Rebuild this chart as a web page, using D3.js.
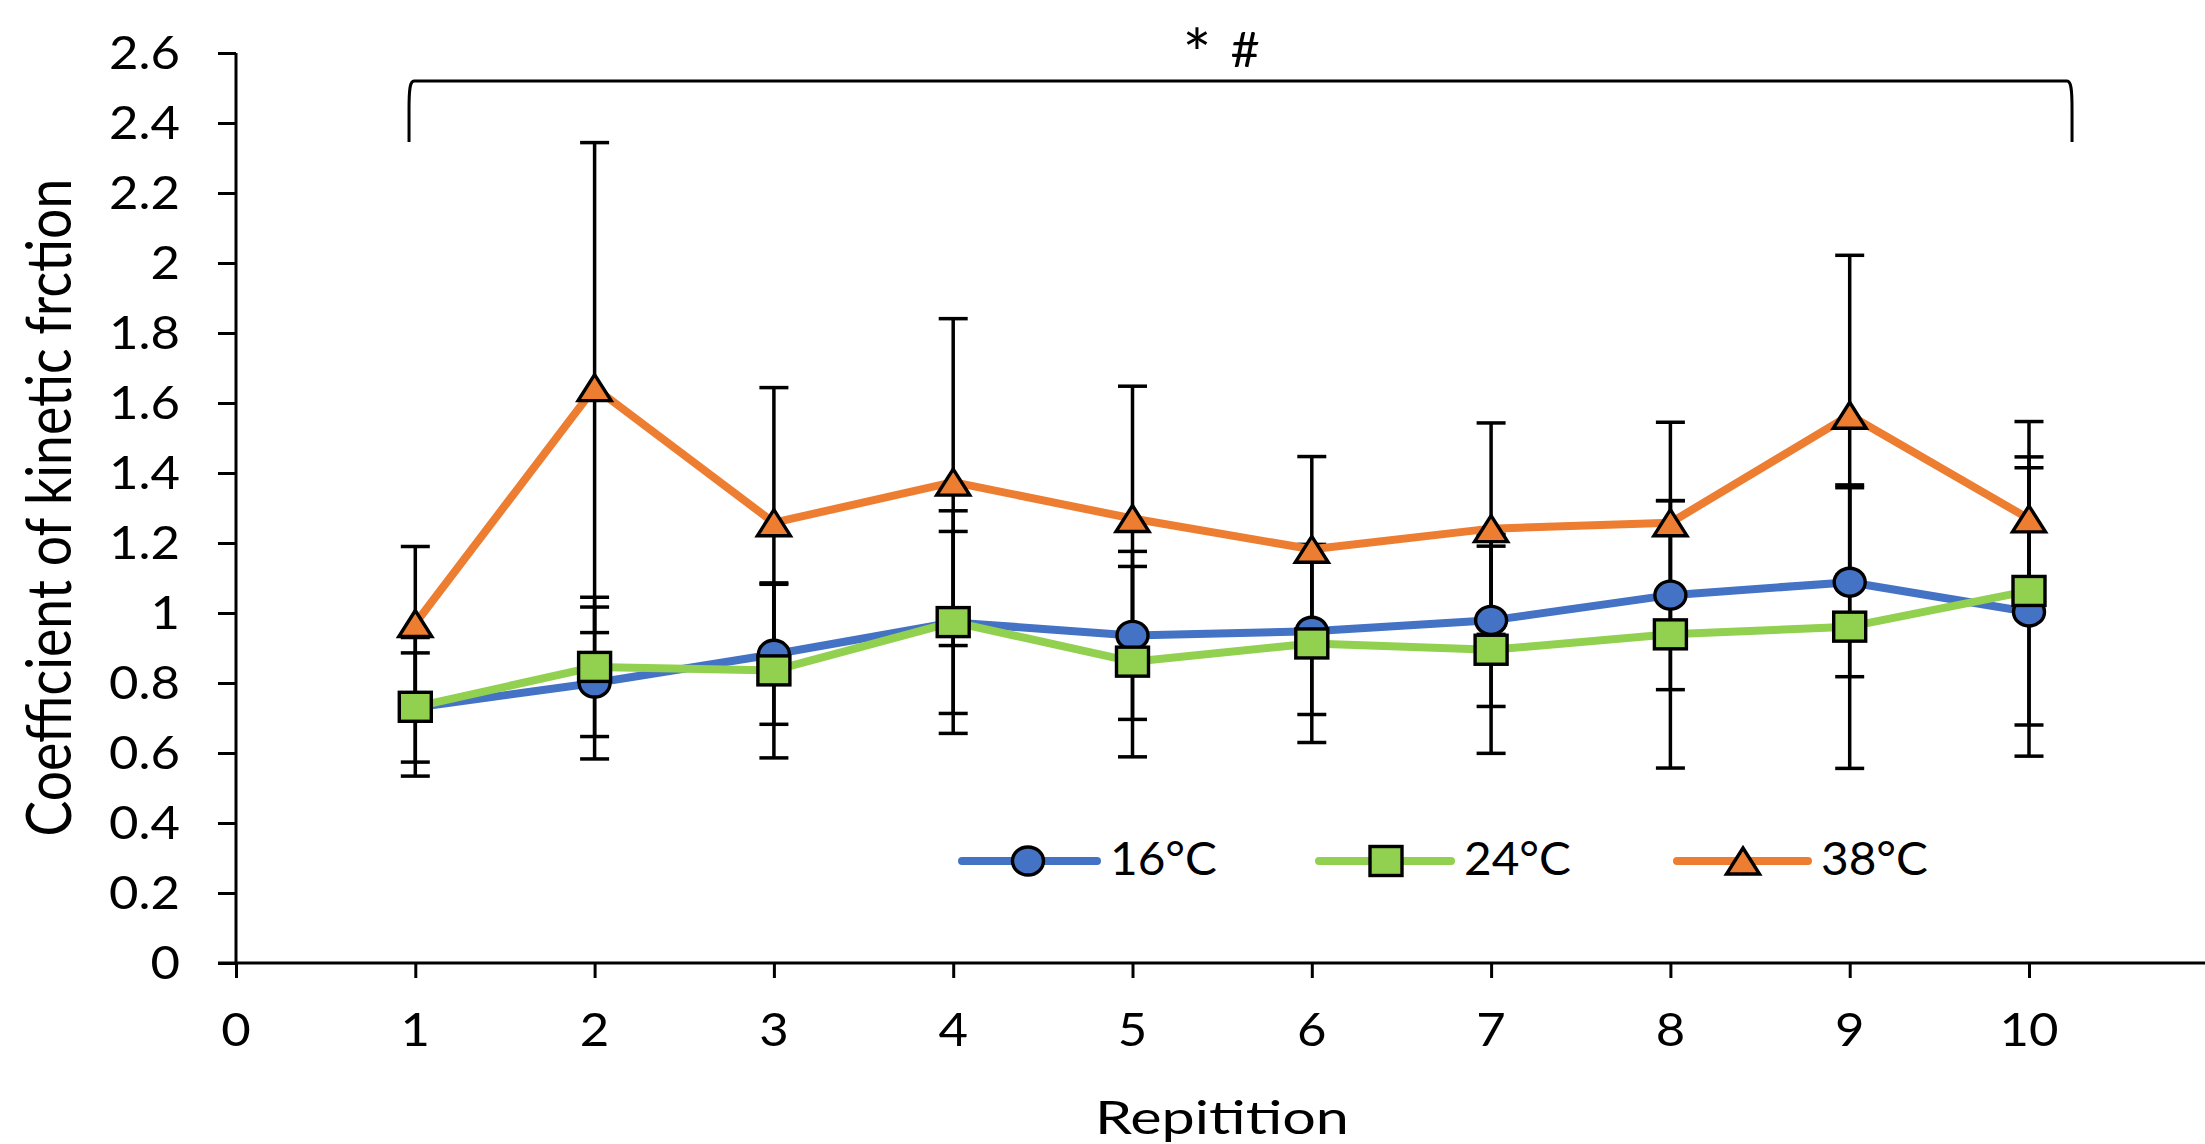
<!DOCTYPE html>
<html>
<head>
<meta charset="utf-8">
<script src="https://cdn.jsdelivr.net/npm/d3@7"></script>
<style>
  html, body { margin: 0; padding: 0; background: #fff; }
  svg { display: block; }
  text { font-family: Lato, "Open Sans", sans-serif; fill: #000; }
</style>
</head>
<body>
<svg id="chart" width="2205" height="1144"></svg>
<script>
// ---------------- data ----------------
const repetitions = [1, 2, 3, 4, 5, 6, 7, 8, 9, 10];
const xTicks = [0, 1, 2, 3, 4, 5, 6, 7, 8, 9, 10];
const yTicks = [0, 0.2, 0.4, 0.6, 0.8, 1, 1.2, 1.4, 1.6, 1.8, 2, 2.2, 2.4, 2.6];
const yTickLabels = ["0", "0.2", "0.4", "0.6", "0.8", "1", "1.2", "1.4", "1.6", "1.8", "2", "2.2", "2.4", "2.6"];

const seriesNames = ["16°C", "24°C", "38°C"];
const mean16 = [0.73, 0.80, 0.882, 0.973, 0.936, 0.948, 0.979, 1.051, 1.088, 1.003];
const sd16   = [0.156, 0.217, 0.20, 0.26, 0.24, 0.238, 0.246, 0.27, 0.27, 0.412];
const mean24 = [0.732, 0.846, 0.836, 0.974, 0.861, 0.913, 0.895, 0.939, 0.961, 1.063];
const sd24   = [0.198, 0.199, 0.25, 0.318, 0.272, 0.283, 0.296, 0.382, 0.405, 0.383];
const mean38 = [0.97, 1.644, 1.258, 1.374, 1.27, 1.182, 1.241, 1.258, 1.565, 1.269];
const sd38   = [0.22, 0.70, 0.386, 0.467, 0.378, 0.265, 0.302, 0.287, 0.457, 0.278];

const annotationStar = "*";
const annotationHash = "#";
const xTitle = "Repitition";
const yTitle = "Coefficient of kinetic frction";

// ---------------- layout ----------------
const colors = ["#4472C4", "#92D050", "#ED7D31"];
const shapes = ["circle", "square", "triangle"];
const svg = d3.select("#chart");
const W = 2205, H = 1144;
const x = d3.scaleLinear().domain([0, 11]).range([236, 236 + 11 * 179.3]);
const y = d3.scaleLinear().domain([0, 2.6]).range([963, 53]);
const FS = 46;

const series = [
  { name: seriesNames[0], mean: mean16, sd: sd16, color: colors[0], shape: shapes[0] },
  { name: seriesNames[1], mean: mean24, sd: sd24, color: colors[1], shape: shapes[1] },
  { name: seriesNames[2], mean: mean38, sd: sd38, color: colors[2], shape: shapes[2] }
];

function measure(str, size) {
  const p = svg.append("text").attr("font-size", size).text(str);
  const w = p.node().getComputedTextLength();
  p.remove();
  return w;
}
// horizontal stretch factors fitted to the reference widths
const SX = 254 / measure(xTitle, FS);
const SXnum = 71 / measure("2.6", FS);
const SXleg = 107 / measure("16°C", FS);

function stretchedText(g, px, py, str, anchor, size, sx) {
  return g.append("text")
    .attr("transform", `translate(${px},${py}) scale(${sx || SX},1)`)
    .attr("text-anchor", anchor)
    .attr("font-size", size || FS)
    .text(str);
}

// ---------------- axes ----------------
const axisG = svg.append("g");
const yAxis = d3.axisLeft(y).tickValues(yTicks).tickSize(18).tickFormat(() => "");
const yG = axisG.append("g").attr("transform", `translate(${x(0)},0)`).call(yAxis);
yG.selectAll("path,line").attr("stroke", "#000").attr("stroke-width", 3);
yG.select(".domain").attr("d", `M0,${y(2.6)}V${y(0)}`);

const xAxis = d3.axisBottom(x).tickValues(xTicks).tickSize(15).tickFormat(() => "");
const xG = axisG.append("g").attr("transform", `translate(0,${y(0)})`).call(xAxis);
xG.selectAll("path,line").attr("stroke", "#000").attr("stroke-width", 3);
xG.select(".domain").attr("d", `M${x(0) - 18},0H${W}`);

const labG = svg.append("g");
yTicks.forEach((v, i) => {
  stretchedText(labG, 180, y(v) + 16, yTickLabels[i], "end", FS, SXnum);
});
xTicks.forEach(v => {
  stretchedText(labG, x(v), 1046, String(v), "middle", FS, SXnum);
});
stretchedText(labG, 1222, 1134, xTitle, "middle", FS, SX);

// y title (vertical): length fitted to reference
const yFS = FS * 658 / measure(yTitle, FS);
svg.append("text")
  .attr("transform", `translate(71,${507.6}) scale(${Math.min(SX, 1.15)},1) rotate(-90)`)
  .attr("text-anchor", "middle")
  .attr("font-size", yFS)
  .text(yTitle);

// ---------------- bracket annotation ----------------
const xl = x(0.965), xr = x(10.24), yt = y(2.52), yb = y(2.346);
svg.append("path")
  .attr("d", `M${xl},${yb} L${xl},${yt + 28} C${xl},${yt + 8} ${xl + 1},${yt} ${xl + 5},${yt} L${xr - 5},${yt} C${xr - 1},${yt} ${xr},${yt + 8} ${xr},${yt + 28} L${xr},${yb}`)
  .attr("fill", "none").attr("stroke", "#000").attr("stroke-width", 3);
const ann = svg.append("g");
ann.append("text").attr("x", 1197).attr("y", 78).attr("text-anchor", "middle")
  .attr("font-size", 68).attr("font-family", "'DejaVu Sans', sans-serif").text(annotationStar);
ann.append("text").attr("transform", `translate(1245,67) scale(1.05,1)`).attr("text-anchor", "middle")
  .attr("font-size", 48).text(annotationHash);

// ---------------- error bars ----------------
const errG = svg.append("g").attr("stroke", "#000").attr("stroke-width", 3.5);
const capW = 29;
series.forEach(s => {
  repetitions.forEach((r, i) => {
    const hi = s.mean[i] + s.sd[i], lo = s.mean[i] - s.sd[i];
    errG.append("line").attr("x1", x(r)).attr("x2", x(r)).attr("y1", y(hi)).attr("y2", y(lo));
    errG.append("line").attr("x1", x(r) - capW / 2).attr("x2", x(r) + capW / 2).attr("y1", y(hi)).attr("y2", y(hi));
    errG.append("line").attr("x1", x(r) - capW / 2).attr("x2", x(r) + capW / 2).attr("y1", y(lo)).attr("y2", y(lo));
  });
});

// ---------------- lines ----------------
const lineGen = d3.line().x((d, i) => x(repetitions[i])).y(d => y(d));
series.forEach(s => {
  svg.append("path").attr("d", lineGen(s.mean))
    .attr("fill", "none").attr("stroke", s.color).attr("stroke-width", 8)
    .attr("stroke-linejoin", "round");
});

// ---------------- markers ----------------
function marker(g, shape, cx, cy, color) {
  const st = { stroke: "#000", "stroke-width": 3.4, fill: color };
  let el;
  if (shape === "circle") {
    el = g.append("ellipse").attr("cx", cx).attr("cy", cy).attr("rx", 15.5).attr("ry", 14);
  } else if (shape === "square") {
    el = g.append("rect").attr("x", cx - 16).attr("y", cy - 14.5).attr("width", 32).attr("height", 29);
  } else {
    const w = 33, h = 24;
    el = g.append("path").attr("d", `M${cx},${cy - h / 2 - 1}L${cx + w / 2},${cy + h / 2 + 1}L${cx - w / 2},${cy + h / 2 + 1}Z`)
      .attr("stroke-linejoin", "miter");
  }
  Object.entries(st).forEach(([k, v]) => el.attr(k, v));
}
const mG = svg.append("g");
series.forEach(s => {
  repetitions.forEach((r, i) => marker(mG, s.shape, x(r), y(s.mean[i]), s.color));
});

// ---------------- legend ----------------
const legendItems = [
  { x1: 962, x2: 1097, mx: 1028, tx: 1110 },
  { x1: 1319, x2: 1451, mx: 1386, tx: 1464 },
  { x1: 1677, x2: 1808, mx: 1743, tx: 1821 }
];
const legY = 861;
const legG = svg.append("g");
series.forEach((s, i) => {
  const L = legendItems[i];
  legG.append("line").attr("x1", L.x1).attr("x2", L.x2).attr("y1", legY).attr("y2", legY)
    .attr("stroke", s.color).attr("stroke-width", 8).attr("stroke-linecap", "round");
  marker(legG, s.shape, L.mx, legY, s.color);
  stretchedText(legG, L.tx, legY + 14, s.name, "start", FS, SXleg);
});
</script>
</body>
</html>
